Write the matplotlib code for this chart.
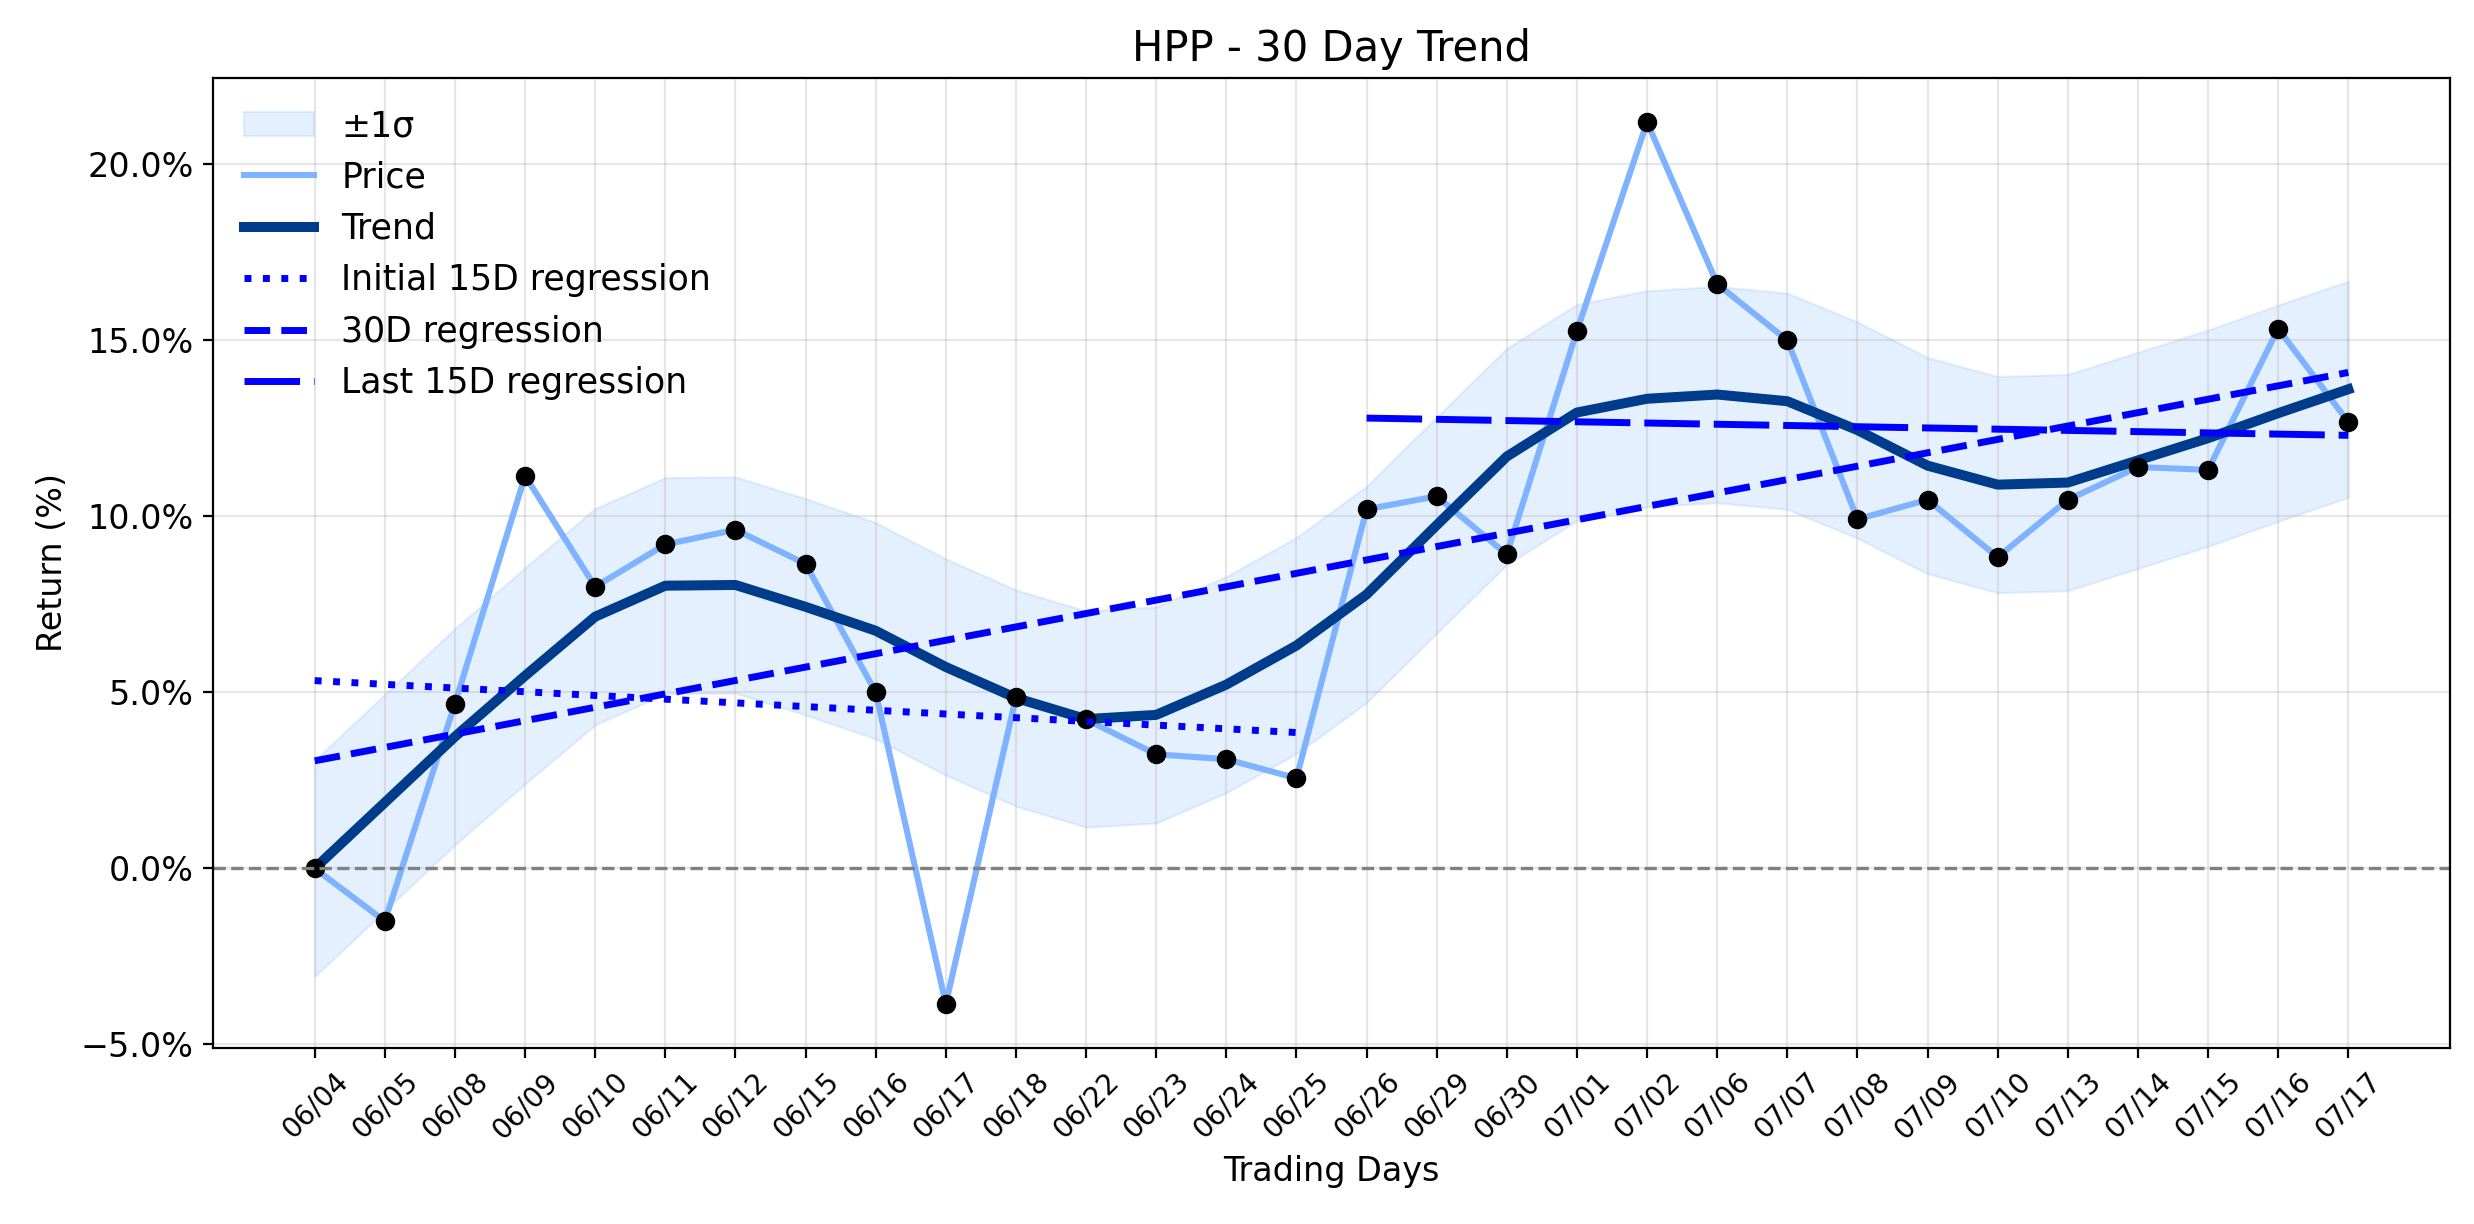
import numpy as np
import matplotlib
matplotlib.use("Agg")
from matplotlib import pyplot as plt
from matplotlib.ticker import PercentFormatter

plt.rcParams['font.size'] = 12

dates = ["06/04", "06/05", "06/08", "06/09", "06/10", "06/11", "06/12", "06/15",
         "06/16", "06/17", "06/18", "06/22", "06/23", "06/24", "06/25", "06/26",
         "06/29", "06/30", "07/01", "07/02", "07/06", "07/07", "07/08", "07/09",
         "07/10", "07/13", "07/14", "07/15", "07/16", "07/17"]

# cumulative return (%)
price = [0.0, -1.5, 4.68, 11.15, 8.0, 9.2, 9.62, 8.65, 5.0, -3.85,
         4.86, 4.23, 3.24, 3.1, 2.56, 10.2, 10.57, 8.92, 15.27, 21.2,
         16.6, 15.0, 9.92, 10.47, 8.84, 10.47, 11.4, 11.32, 15.33, 12.68]

trend = [0.0, 1.87, 3.74, 5.47, 7.15, 8.03, 8.05, 7.43, 6.75, 5.72,
         4.84, 4.24, 4.36, 5.22, 6.33, 7.78, 9.75, 11.7, 12.95, 13.34,
         13.46, 13.27, 12.45, 11.44, 10.9, 10.96, 11.59, 12.22, 12.93, 13.61]

sigma = 3.07

x = np.arange(len(dates))
price = np.array(price)
trend = np.array(trend)

fig = plt.figure(figsize=(12.37, 6.12), dpi=200)
ax = fig.add_subplot(111)
fig.subplots_adjust(left=0.0861, right=0.9903, bottom=0.1438, top=0.9363)

ax.fill_between(x, trend - sigma, trend + sigma, color="#80b5fa", alpha=0.2, lw=0.8, label="±1σ")
ax.plot(x, price, color="#7fb3ff", lw=2.2, label="Price")
ax.plot(x, trend, color="#003c8c", lw=3.6, label="Trend")
ax.plot(x, price, "o", color="black", ms=6)

# regressions
n = 15
p1 = np.polyfit(x[:n], price[:n], 1)
ax.plot(x[:n], np.polyval(p1, x[:n]), color="blue", ls=":", lw=2.5, label="Initial 15D regression")
p_all = np.polyfit(x, price, 1)
ax.plot(x, np.polyval(p_all, x), color="blue", ls="--", lw=2.5, label="30D regression")
p2 = np.polyfit(x[n:], price[n:], 1)
ax.plot(x[n:], np.polyval(p2, x[n:]), color="blue", ls=(0, (8, 2)), lw=2.5, label="Last 15D regression")

ax.axhline(0, color="gray", ls="--", lw=1.2)

ax.set_xticks(x)
ax.set_xticklabels(dates, rotation=45, fontsize=10)
ax.yaxis.set_major_formatter(PercentFormatter(xmax=100, decimals=1))
ax.grid(True, alpha=0.3)
ax.set_title("HPP - 30 Day Trend", fontsize=15)
ax.set_xlabel("Trading Days")
ax.set_ylabel("Return (%)")
ax.legend(loc="upper left", frameon=False, fontsize=12.5)

plt.savefig("out.png", dpi=200)
